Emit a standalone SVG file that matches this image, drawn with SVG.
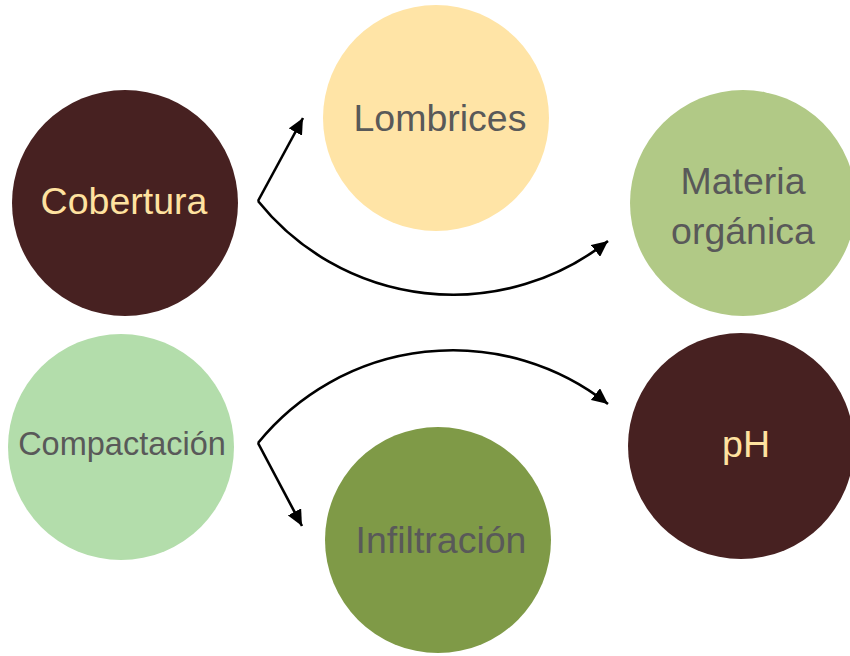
<svg xmlns="http://www.w3.org/2000/svg" width="850" height="656" viewBox="0 0 850 656">
  <style>
    .lbl { font-family: "Liberation Sans", Arial, Helvetica, sans-serif; font-size: 37.5px; text-anchor: middle; fill: #595959; }
    .light { fill: #FFE2A0; }
    .small { font-size: 32.5px; }
    .conn { fill: none; stroke: #000; stroke-width: 2.6; marker-end: url(#head); }
  </style>
  <defs>
    <marker id="head" markerUnits="userSpaceOnUse" markerWidth="17" markerHeight="15" refX="16" refY="7.5" orient="auto">
      <path d="M0,0 L16,7.5 L0,15 Z" fill="#000"/>
    </marker>
  </defs>

  <rect width="850" height="656" fill="#fff"/>

  <g id="cobertura">
    <circle cx="125" cy="203" r="113" fill="#472121"/>
    <text class="lbl light" x="124" y="214">Cobertura</text>
  </g>
  <g id="lombrices">
    <circle cx="436" cy="118" r="113" fill="#FFE4A6"/>
    <text class="lbl" x="440" y="131">Lombrices</text>
  </g>
  <g id="materia-organica">
    <circle cx="743" cy="203" r="113" fill="#B1C986"/>
    <text class="lbl" x="743" y="194">Materia</text>
    <text class="lbl" x="743" y="244">orgánica</text>
  </g>
  <g id="compactacion">
    <circle cx="121" cy="447" r="113" fill="#B3DDAB"/>
    <text class="lbl small" x="122" y="455">Compactación</text>
  </g>
  <g id="infiltracion">
    <circle cx="438" cy="540" r="113" fill="#7F9A47"/>
    <text class="lbl" x="441" y="553">Infiltración</text>
  </g>
  <g id="ph">
    <circle cx="741" cy="446" r="113" fill="#472121"/>
    <text class="lbl light" x="746" y="457">pH</text>
  </g>

  <g id="connectors">
    <path class="conn" d="M258,201 L303,118"/>
    <path class="conn" d="M258,201 A250,250 0 0 0 608,241"/>
    <path class="conn" d="M258,443 A251,251 0 0 1 608,404"/>
    <path class="conn" d="M258,443 L302,526"/>
  </g>
</svg>
